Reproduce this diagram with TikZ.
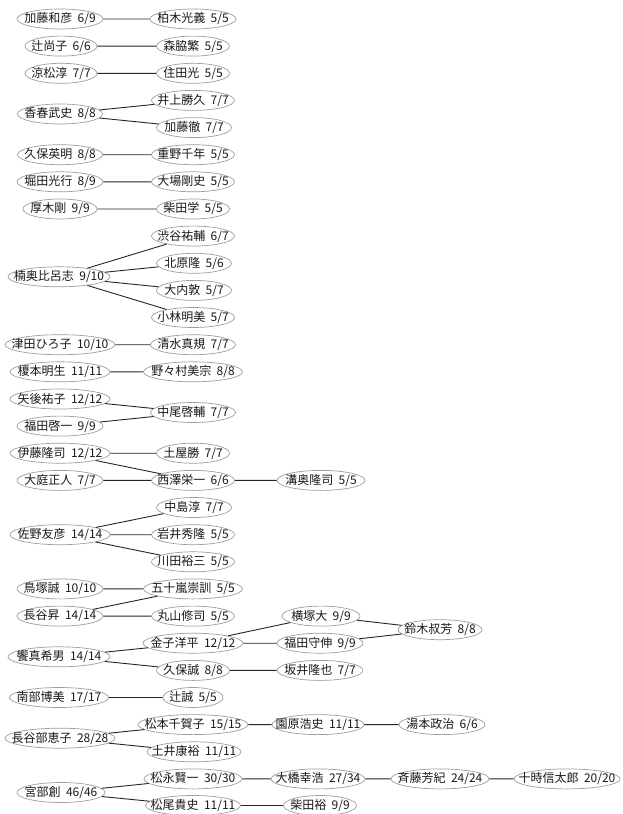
\documentclass[tikz,border=0pt]{standalone}
\usepackage{fontspec}
\setmainfont[WordSpace=2]{Noto Sans CJK JP}
\usetikzlibrary{shapes.geometric}
\tikzset{
  person/.style={ellipse, draw=black!38, line width=0.7pt, inner sep=0pt,
    minimum height=20pt, font=\fontsize{12}{12}\selectfont, text=black!90},
  link/.style={draw=black!85, line width=0.9pt}
}
\newcommand\mkperson[5]{\node[person, minimum width=#4pt] (#1) at (#2,#3) {\makebox[0pt]{#5}};}
\begin{document}
\begin{tikzpicture}[x=1pt,y=-1pt]
\fill[white] (0,0) rectangle (623,814);
\useasboundingbox (0,0) rectangle (623,814);
\mkperson{n1}{60}{19}{86}{加藤和彦 6/9}
\mkperson{m1}{193}{19}{86}{柏木光義 5/5}
\mkperson{n2}{61}{46.1}{72}{辻尚子 6/6}
\mkperson{m2}{193}{46.1}{73}{森脇繁 5/5}
\mkperson{n3}{61}{73.3}{72}{涼松淳 7/7}
\mkperson{m3}{193}{73.3}{73}{住田光 5/5}
\mkperson{n4}{60}{114}{85}{香春武史 8/8}
\mkperson{m4a}{193}{100.4}{83}{井上勝久 7/7}
\mkperson{m4b}{194}{127.6}{75}{加藤徹 7/7}
\mkperson{n5}{60}{154.7}{85}{久保英明 8/8}
\mkperson{m5}{193}{154.7}{83}{重野千年 5/5}
\mkperson{n6}{60}{181.8}{86}{堀田光行 8/9}
\mkperson{m6}{193}{181.8}{83}{大場剛史 5/5}
\mkperson{n7}{60}{209}{74}{厚木剛 9/9}
\mkperson{m7}{193}{209}{73}{柴田学 5/5}
\mkperson{n8}{59}{276.8}{102}{楠奥比呂志 9/10}
\mkperson{m8a}{193}{236.1}{83}{渋谷祐輔 6/7}
\mkperson{m8b}{194}{263.3}{75}{北原隆 5/6}
\mkperson{m8c}{194}{290.4}{75}{大内敦 5/7}
\mkperson{m8d}{193}{317.5}{83}{小林明美 5/7}
\mkperson{n9}{60}{344.7}{110}{津田ひろ子 10/10}
\mkperson{m9}{193}{344.7}{85}{清水真規 7/7}
\mkperson{n10}{60}{371.8}{100}{榎本明生 11/11}
\mkperson{m10}{193}{371.8}{99}{野々村美宗 8/8}
\mkperson{n11a}{60}{399}{100}{矢後祐子 12/12}
\mkperson{n11b}{60}{426.1}{86}{福田啓一 9/9}
\mkperson{m11}{193}{412.5}{85}{中尾啓輔 7/7}
\mkperson{n12a}{60}{453.2}{100}{伊藤隆司 12/12}
\mkperson{n12b}{60}{480.4}{86}{大庭正人 7/7}
\mkperson{m12a}{193}{453.2}{73}{土屋勝 7/7}
\mkperson{m12b}{193}{480.4}{83}{西澤栄一 6/6}
\mkperson{k12}{321}{480.4}{88}{溝奥隆司 5/5}
\mkperson{n13}{60}{534.7}{100}{佐野友彦 14/14}
\mkperson{m13a}{194}{507.5}{75}{中島淳 7/7}
\mkperson{m13b}{193}{534.7}{83}{岩井秀隆 5/5}
\mkperson{m13c}{193}{561.8}{83}{川田裕三 5/5}
\mkperson{n14a}{60}{588.9}{86}{鳥塚誠 10/10}
\mkperson{n14b}{60}{616.1}{86}{長谷昇 14/14}
\mkperson{m14a}{193}{588.9}{99}{五十嵐崇訓 5/5}
\mkperson{m14b}{193}{616.1}{83}{丸山修司 5/5}
\mkperson{n15}{59}{656.8}{102}{饗真希男 14/14}
\mkperson{m15a}{193}{643.2}{100}{金子洋平 12/12}
\mkperson{m15b}{193}{670.4}{73}{久保誠 8/8}
\mkperson{k15a}{321}{616.1}{78}{横塚大 9/9}
\mkperson{k15b}{320}{643.2}{86}{福田守伸 9/9}
\mkperson{k15c}{320}{670.4}{86}{坂井隆也 7/7}
\mkperson{j15}{440}{629.7}{84}{鈴木叔芳 8/8}
\mkperson{n16}{59}{697.5}{99}{南部博美 17/17}
\mkperson{m16}{193}{697.5}{60}{辻誠 5/5}
\mkperson{n17}{60}{738.2}{110}{長谷部恵子 28/28}
\mkperson{m17a}{193}{724.6}{110}{松本千賀子 15/15}
\mkperson{m17b}{194}{751.8}{94}{土井康裕 11/11}
\mkperson{k17}{318}{724.6}{92}{園原浩史 11/11}
\mkperson{j17}{442}{724.6}{86}{湯本政治 6/6}
\mkperson{n18}{61}{792.5}{88}{宮部創 46/46}
\mkperson{m18a}{193}{778.9}{98}{松永賢一 30/30}
\mkperson{m18b}{193}{805.5}{95}{松尾貴史 11/11}
\mkperson{k18a}{318}{778.9}{94}{大橋幸浩 27/34}
\mkperson{k18b}{320}{805.5}{73}{柴田裕 9/9}
\mkperson{j18}{440}{778.9}{98}{斉藤芳紀 24/24}
\mkperson{i18}{567}{778.9}{106}{十時信太郎 20/20}
\path[link] (n1)--(m1) (n2)--(m2) (n3)--(m3)
  (n4)--(m4a) (n4)--(m4b) (n5)--(m5) (n6)--(m6) (n7)--(m7)
  (n8)--(m8a) (n8)--(m8b) (n8)--(m8c) (n8)--(m8d)
  (n9)--(m9) (n10)--(m10) (n11a)--(m11) (n11b)--(m11)
  (n12a)--(m12a) (n12a)--(m12b) (n12b)--(m12b) (m12b)--(k12)
  (n13)--(m13a) (n13)--(m13b) (n13)--(m13c)
  (n14a)--(m14a) (n14b)--(m14a) (n14b)--(m14b)
  (n15)--(m15a) (n15)--(m15b) (m15a)--(k15a) (m15a)--(k15b)
  (k15a)--(j15) (k15b)--(j15) (m15b)--(k15c)
  (n16)--(m16)
  (n17)--(m17a) (n17)--(m17b) (m17a)--(k17) (k17)--(j17)
  (n18)--(m18a) (n18)--(m18b) (m18a)--(k18a) (k18a)--(j18) (j18)--(i18)
  (m18b)--(k18b);
\end{tikzpicture}
\end{document}
